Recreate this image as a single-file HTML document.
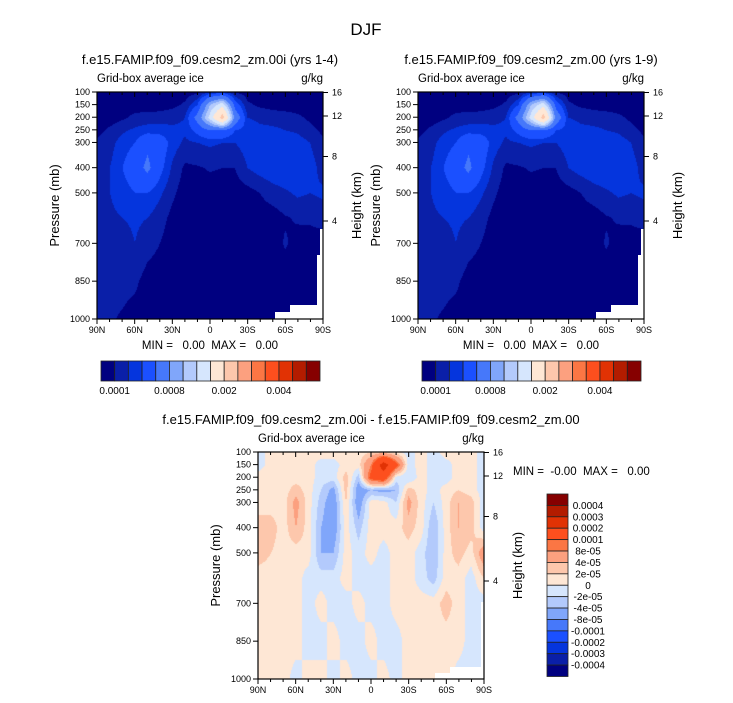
<!DOCTYPE html>
<html><head><meta charset="utf-8">
<style>
body{margin:0;background:#fff;width:733px;height:703px;overflow:hidden;font-family:"Liberation Sans",sans-serif;}
#root{position:relative;width:733px;height:703px;}
canvas{position:absolute;}
svg{position:absolute;left:0;top:0;}
text{white-space:pre;}
</style></head>
<body><div id="root">
<canvas id="c1" width="226" height="227" style="left:97px;top:92px"></canvas>
<canvas id="c2" width="226" height="227" style="left:418px;top:92px"></canvas>
<canvas id="c3" width="226" height="227" style="left:258px;top:452px"></canvas>
<svg id="ov" width="733" height="703"></svg>
</div>
<script>
// ---- data ----
const latLabels = ["90N","60N","30N","0","30S","60S","90S"];
const pressureLevels = [100,150,200,250,300,400,500,600,700,850,1000];
const pressureTicks = [100,150,200,250,300,400,500,700,850,1000];
const heightTicks = [16,12,8,4];
// ice (units 1e-4 g/kg), columns 90N..90S step 10 deg
const iceValues = [
[.5,.5,.5,.5,.5,.5,.5,.5,.8,2,2.5,1,.5,.5,.5,.5,.5,.5,.5],
[.5,.5,.5,.5,.5,.5,.7,1.2,3,10,14,4,1.2,.8,.6,.5,.5,.5,.5],
[.5,.5,.8,1.3,1.4,1.5,1.7,2,6,13,22,7,2,1.8,1.6,1.5,1.2,.8,.5],
[.7,1.2,1.8,2.2,2.5,2.5,2.2,2.2,3.5,5,5,3,2.5,2.2,2.2,2,1.8,1.3,.8],
[1.2,1.6,2.5,3,4.5,4,2.5,1.8,2,2.2,2,2,2.5,2.5,2.8,2.8,2.5,2,1.2],
[1.5,2,3,4,5.5,3.5,1.8,.8,.9,1.1,1,1,2,2.5,2.8,3,3,2.5,1.6],
[1.8,2,2.5,3,3,2.2,1.2,.5,.5,.5,.5,.5,.6,1,1.5,1.8,2.2,2,2.2],
[1.3,1.8,2,2.2,2,1.4,.7,.5,.5,.5,.5,.5,.5,.5,.5,.9,1.1,1.2,1.4],
[1.1,1.3,1.5,2,1.4,1,.5,.5,.5,.5,.5,.5,.5,.5,.5,1.1,.7,.5,.5],
[1.5,1.2,1.3,1.2,.6,.5,.5,.5,.5,.5,.5,.5,.5,.5,.5,.5,.5,.5,.5],
[1.2,1.1,.9,.6,.5,.5,.5,.5,.5,.5,.5,.5,.5,.5,.5,.5,.5,.5,.5]];
const iceLevels = [1,2,3,5,8,10,12,15,20,25,30,35,40,45,50];
const iceLabels = ["0.0001","0.0008","0.002","0.004"];
// difference (units 1e-5 g/kg)
const diffValues = [
[-1,1,1,1,1,1,1,1,1,2,3,1,-1,1,-1,1,1,1,-1],
[-1,1,1,1,1,-1,-1,1,1,8,25,12,-1,1,-1,-1,1,1,-1],
[1,1,1,1,1,-1,-1,3,-3,12,15,-1,-2,1,-1,-1,1,1,-1],
[1,1,1,3,1,-2,-5,3,-6,-4,-5,-4,3,1,-1,1,2,1,-1],
[1,1,1,5,1,-3,-6,2,-6,1,1,-2,5,1,-2,1,4,3,-1],
[3,3,1,4,1,-4,-6,1,-3,1,1,1,3,1,-4,1,4,3,-1],
[3,2,1,1,1,-4,-4,1,-1,1,-1,1,1,-1,-4,1,3,1,6],
[1,1,1,1,-1,-1,-1,1,-1,-1,-1,1,1,-1,-3,1,1,-1,2],
[1,1,1,1,-1,1,-1,-1,1,-1,-1,1,1,1,1,3,1,-1,-1],
[1,1,1,1,-1,-1,1,-1,-1,1,-1,-1,1,1,1,1,1,-1,-1],
[2,1,1,-1,1,1,-1,1,-1,-1,1,-1,1,1,1,1,-1,-1,-1]];
const diffLevels = [-40,-30,-20,-10,-8,-4,-2,0,2,4,8,10,20,30,40];
const diffLabels = ["0.0004","0.0003","0.0002","0.0001","8e-05","4e-05","2e-05","0","-2e-05","-4e-05","-8e-05","-0.0001","-0.0002","-0.0003","-0.0004"];
const palette = ["#000080","#0a1fa8","#0535dd","#1b50ff","#4678fa","#80a6fa","#b3cafc","#d6e6fd","#fee7d5","#fdc7ac","#fca07f","#fb7644","#fd4f1e","#e13204","#b31c00","#860000"];

function hex(c){return [parseInt(c.substr(1,2),16),parseInt(c.substr(3,2),16),parseInt(c.substr(5,2),16)];}
const pal = palette.map(hex);
function drawField(id, vals, levels){
  const cv=document.getElementById(id), ctx=cv.getContext('2d');
  const W=cv.width,H=cv.height,img=ctx.createImageData(W,H);
  const nc=vals[0].length;
  for(let y=0;y<H;y++){
    const p=100+y/(H-1)*900;
    let r=0; while(r<pressureLevels.length-2 && pressureLevels[r+1]<p) r++;
    const ty=(p-pressureLevels[r])/(pressureLevels[r+1]-pressureLevels[r]);
    for(let x=0;x<W;x++){
      const fx=x/(W-1)*(nc-1); let c=Math.min(Math.floor(fx),nc-2); const tx=fx-c;
      const v=(vals[r][c]*(1-tx)+vals[r][c+1]*tx)*(1-ty)+(vals[r+1][c]*(1-tx)+vals[r+1][c+1]*tx)*ty;
      let k=0; while(k<levels.length && v>=levels[k]) k++;
      const col=pal[k], i=(y*W+x)*4;
      img.data[i]=col[0];img.data[i+1]=col[1];img.data[i+2]=col[2];img.data[i+3]=255;
    }
  }
  ctx.putImageData(img,0,0);
}
drawField('c1',iceValues,iceLevels);
drawField('c2',iceValues,iceLevels);
drawField('c3',diffValues,diffLevels);

const svg=document.getElementById('ov'); const NS="http://www.w3.org/2000/svg";
function mk(tag,attrs,name,parent){const e=document.createElementNS(NS,tag);for(const k in attrs)e.setAttribute(k,attrs[k]);


(parent||svg).appendChild(e);return e;}
function txt(x,y,s,size,anchor,name,extra){const t=mk('text',Object.assign({x:x,y:y,'font-size':size,'text-anchor':anchor||'middle',fill:'#000','font-family':'Liberation Sans, sans-serif'},extra||{}),name);t.textContent=s;return t;}

function panel(x0,y0,title,mask){
  const W=226,H=227;
  const pY=p=>y0+(p-100)/900*H;
  const hY={16:y0+0.5,12:y0+24,8:y0+64.5,4:y0+129};
  if(mask){mk('polygon',{points:mask.map(q=>(x0+q[0])+','+(y0+q[1])).join(' '),fill:'#fff'},'missing-data-mask');}
  mk('rect',{x:x0,y:y0,width:W,height:H,fill:'none',stroke:'#000','stroke-width':1.2},'plot-frame');
  txt(x0+W/2,y0-28,title,13,'middle','panel-title');
  txt(x0,y0-10,'Grid-box average ice',11.5,'start','variable-label');
  txt(x0+W,y0-10,'g/kg',11.5,'end','units-label');
  for(let i=0;i<=18;i++){const x=x0+i/18*W, L=(i%3==0)?5:3;
    mk('line',{x1:x,x2:x,y1:y0,y2:y0+L,stroke:'#000'},'x-tick-top');
    mk('line',{x1:x,x2:x,y1:y0+H,y2:y0+H+L,stroke:'#000'},'x-tick');}
  latLabels.forEach((s,i)=>txt(x0+i/6*W,y0+H+14,s,9,'middle','x-tick-label'));
  pressureTicks.forEach(p=>{const y=pY(p);mk('line',{x1:x0-5,x2:x0,y1:y,y2:y,stroke:'#000'},'y-tick');
    txt(x0-7,y+3,String(p),9,'end','y-tick-label');});
  heightTicks.forEach(h=>{const y=hY[h];mk('line',{x1:x0+W,x2:x0+W+5,y1:y,y2:y,stroke:'#000'},'height-tick');
    txt(x0+W+9,y+3,String(h),9,'start','height-tick-label');});
  txt(0,0,'Pressure (mb)',13,'middle','y-axis-title',{transform:`translate(${x0-38},${y0+H/2}) rotate(-90)`});
  txt(0,0,'Height (km)',13,'middle','right-axis-title',{transform:`translate(${x0+W+38},${y0+H/2}) rotate(-90)`});
}
const topMask=[[226,137],[223,137],[223,163],[220,163],[220,213],[193,213],[193,220],[178,220],[178,227],[226,227]];
panel(97,92,'f.e15.FAMIP.f09_f09.cesm2_zm.00i (yrs 1-4)',topMask);
panel(418,92,'f.e15.FAMIP.f09_f09.cesm2_zm.00 (yrs 1-9)',topMask);
panel(258,452,'f.e15.FAMIP.f09_f09.cesm2_zm.00i - f.e15.FAMIP.f09_f09.cesm2_zm.00',[[226,150],[223,150],[223,215],[192,215],[192,221],[177,221],[177,227],[226,227]]);
txt(366,35,'DJF',17,'middle','figure-title');
txt(210,349,'MIN =   0.00  MAX =   0.00',11.5,'middle','min-max-label');
txt(531,349,'MIN =   0.00  MAX =   0.00',11.5,'middle','min-max-label');
txt(513,475,'MIN =  -0.00  MAX =   0.00',11.5,'start','min-max-label');

function hbar(x0,y0){const w=219/16;
  palette.forEach((c,i)=>mk('rect',{x:x0+i*w,y:y0,width:w,height:20,fill:c,stroke:'#222','stroke-width':0.8},'colorbar-box'));
  [1,5,9,13].forEach((b,i)=>txt(x0+b*w,y0+33,iceLabels[i],10,'middle','colorbar-label'));}
hbar(101,361); hbar(422,361);
(function(){const x0=547,y0=494,h=182.5/16;
  palette.slice().reverse().forEach((c,i)=>mk('rect',{x:x0,y:y0+i*h,width:21,height:h,fill:c,stroke:'#222','stroke-width':0.8},'diff-colorbar-box'));
  diffLabels.forEach((s,i)=>txt(588,y0+(i+1)*h+3.5,s,10,'middle','diff-colorbar-label'));})();
</script>
</body></html>
